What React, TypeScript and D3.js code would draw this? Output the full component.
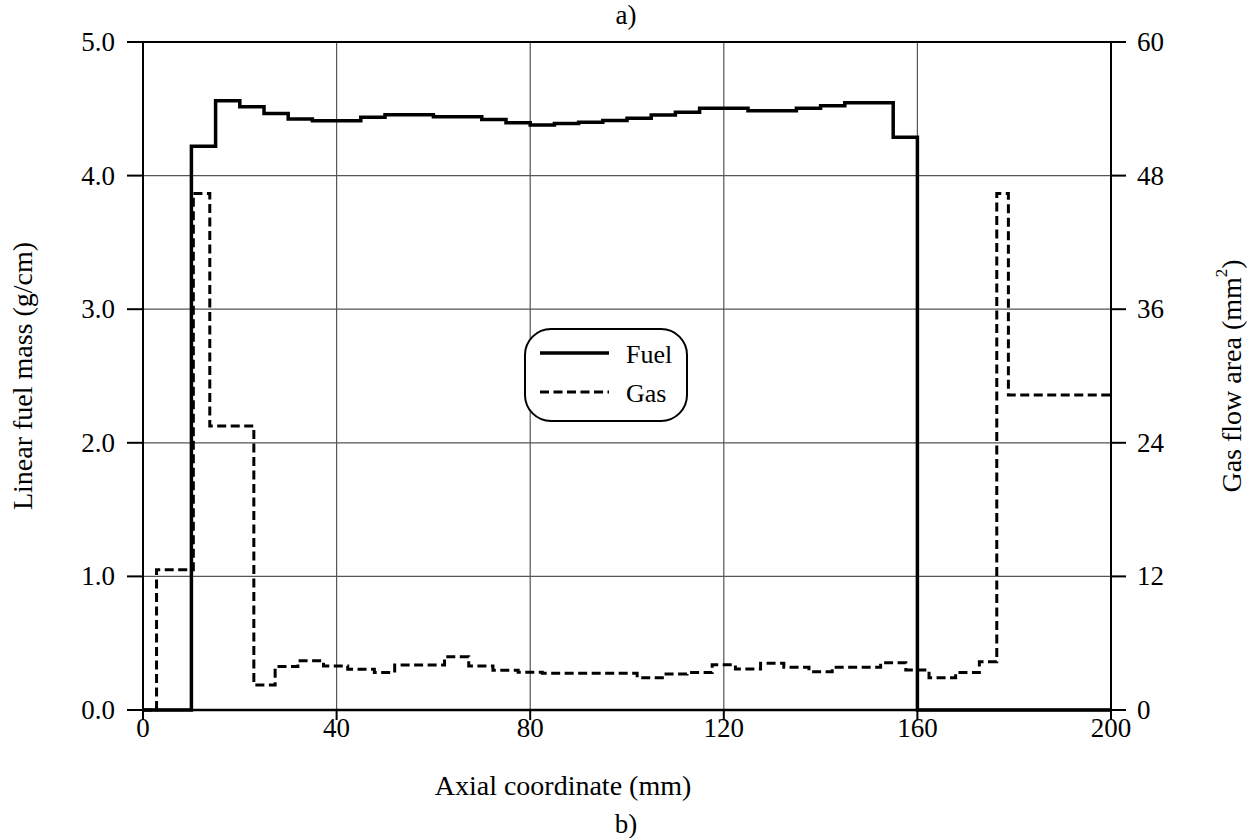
import React from "react";
import * as d3 from "d3";

// Fuel: step starts (mm) and linear fuel mass (g/cm); last segment ends at fuelEnd
const fuelStarts = [0, 10, 15, 20, 25, 30, 35, 45, 50, 60, 70, 75, 80, 85, 90, 95, 100, 105, 110, 115, 125, 135, 140, 145, 155, 160];
const fuelValues = [0, 4.22, 4.56, 4.515, 4.465, 4.424, 4.41, 4.436, 4.456, 4.44, 4.42, 4.396, 4.379, 4.39, 4.40, 4.412, 4.43, 4.454, 4.474, 4.504, 4.486, 4.504, 4.523, 4.546, 4.287, 0];
const fuelEnd = 200;

// Gas: step starts (mm) and gas flow area (mm^2)
const gasStarts = [0, 2.8, 10.4, 13.8, 22.9, 27.3, 32, 37.3, 42.3, 47.8, 52, 62.3, 67.3, 72.3, 77.5, 82.5, 102.1, 107.3, 112.4, 117.6, 122.4, 127.6, 132.4, 137.6, 142.4, 152.4, 157.6, 162.4, 167.9, 172.8, 176.4, 178.8];
const gasValues = [0, 12.6, 46.4, 25.5, 2.25, 3.9, 4.43, 3.95, 3.66, 3.36, 4.04, 4.79, 3.95, 3.58, 3.4, 3.3, 2.9, 3.23, 3.36, 4.07, 3.68, 4.2, 3.84, 3.44, 3.84, 4.25, 3.6, 2.9, 3.36, 4.34, 46.4, 28.3];
const gasEnd = 200;

const xTicks = [0, 40, 80, 120, 160, 200];
const yLeftTicks = [0, 1, 2, 3, 4, 5];
const yRightTicks = [0, 12, 24, 36, 48, 60];

const FONT = "'Liberation Serif', 'Times New Roman', serif";

export default function App() {
  const W = 1252, H = 838;
  const x = d3.scaleLinear().domain([0, 200]).range([143, 1111]);
  const yL = d3.scaleLinear().domain([0, 5]).range([710, 42]);
  const yR = d3.scaleLinear().domain([0, 60]).range([710, 42]);

  const fuelPts: [number, number][] = fuelStarts.map((s, i) => [s, fuelValues[i]]);
  fuelPts.push([fuelEnd, fuelValues[fuelValues.length - 1]]);
  const gasPts: [number, number][] = gasStarts.map((s, i) => [s, gasValues[i]]);
  gasPts.push([gasEnd, gasValues[gasValues.length - 1]]);

  const fuelLine = d3.line<[number, number]>().x(d => x(d[0])).y(d => yL(d[1])).curve(d3.curveStepAfter);
  const gasLine = d3.line<[number, number]>().x(d => x(d[0])).y(d => yR(d[1])).curve(d3.curveStepAfter);

  const [x0, x1] = x.range();
  const [yb, yt] = yL.range();
  const fs = 27;
  const ft = 28;

  return (
    <svg width={W} height={H} style={{ position: "absolute", left: 0, top: 0, background: "#fff" }} fontFamily={FONT}>
      <rect x={0} y={0} width={W} height={H} fill="#fff" />
      {/* grid */}
      {xTicks.slice(1, -1).map(t => (
        <line key={"gx" + t} x1={x(t)} x2={x(t)} y1={yb} y2={yt} stroke="#555" strokeWidth={1.2} />
      ))}
      {yLeftTicks.slice(1, -1).map(t => (
        <line key={"gy" + t} x1={x0} x2={x1} y1={yL(t)} y2={yL(t)} stroke="#555" strokeWidth={1.2} />
      ))}
      {/* data */}
      <path d={gasLine(gasPts) || ""} fill="none" stroke="#000" strokeWidth={3} strokeDasharray="9,4.5" />
      <path d={fuelLine(fuelPts) || ""} fill="none" stroke="#000" strokeWidth={3.5} />
      {/* frame */}
      <line x1={x0} x2={x1} y1={yb} y2={yb} stroke="#000" strokeWidth={2.5} />
      <line x1={x0} x2={x1} y1={yt} y2={yt} stroke="#000" strokeWidth={2} />
      <line x1={x0} x2={x0} y1={yb} y2={yt} stroke="#000" strokeWidth={2} />
      <line x1={x1} x2={x1} y1={yb} y2={yt} stroke="#000" strokeWidth={2} />
      {/* x ticks */}
      {xTicks.map(t => (
        <g key={"xt" + t}>
          <line x1={x(t)} x2={x(t)} y1={yb} y2={yb + 10} stroke="#000" strokeWidth={2} />
          <text x={x(t)} y={yb + 18} textAnchor="middle" dominantBaseline="central" fontSize={fs}>{t}</text>
        </g>
      ))}
      {/* left ticks */}
      {yLeftTicks.map(t => (
        <g key={"yl" + t}>
          <line x1={x0 - 16} x2={x0} y1={yL(t)} y2={yL(t)} stroke="#000" strokeWidth={2} />
          <text x={x0 - 28} y={yL(t)} textAnchor="end" dominantBaseline="central" fontSize={fs}>{d3.format(".1f")(t)}</text>
        </g>
      ))}
      {/* right ticks */}
      {yRightTicks.map(t => (
        <g key={"yr" + t}>
          <line x1={x1} x2={x1 + 15} y1={yR(t)} y2={yR(t)} stroke="#000" strokeWidth={2} />
          <text x={x1 + 26} y={yR(t)} textAnchor="start" dominantBaseline="central" fontSize={fs}>{t}</text>
        </g>
      ))}
      {/* titles */}
      <text x={626} y={15} textAnchor="middle" dominantBaseline="central" fontSize={27}>a)</text>
      <text x={626} y={824} textAnchor="middle" dominantBaseline="central" fontSize={27}>b)</text>
      <text x={563} y={785} textAnchor="middle" dominantBaseline="central" fontSize={ft}>Axial coordinate (mm)</text>
      <text transform={`translate(22,376) rotate(-90)`} textAnchor="middle" dominantBaseline="central" fontSize={ft}>Linear fuel mass (g/cm)</text>
      <text transform={`translate(1231,376) rotate(-90)`} textAnchor="middle" dominantBaseline="central" fontSize={ft}>
        Gas flow area (mm<tspan baselineShift="super" fontSize={17}>2</tspan>)
      </text>
      {/* legend */}
      <rect x={525} y={329} width={162} height={92} rx={26} ry={26} fill="#fff" stroke="#000" strokeWidth={2} />
      <line x1={540} x2={609} y1={353} y2={353} stroke="#000" strokeWidth={3.5} />
      <line x1={540} x2={609} y1={392} y2={392} stroke="#000" strokeWidth={3} strokeDasharray="9,4.5" />
      <text x={626} y={354} dominantBaseline="central" fontSize={26}>Fuel</text>
      <text x={626} y={393} dominantBaseline="central" fontSize={26}>Gas</text>
    </svg>
  );
}
